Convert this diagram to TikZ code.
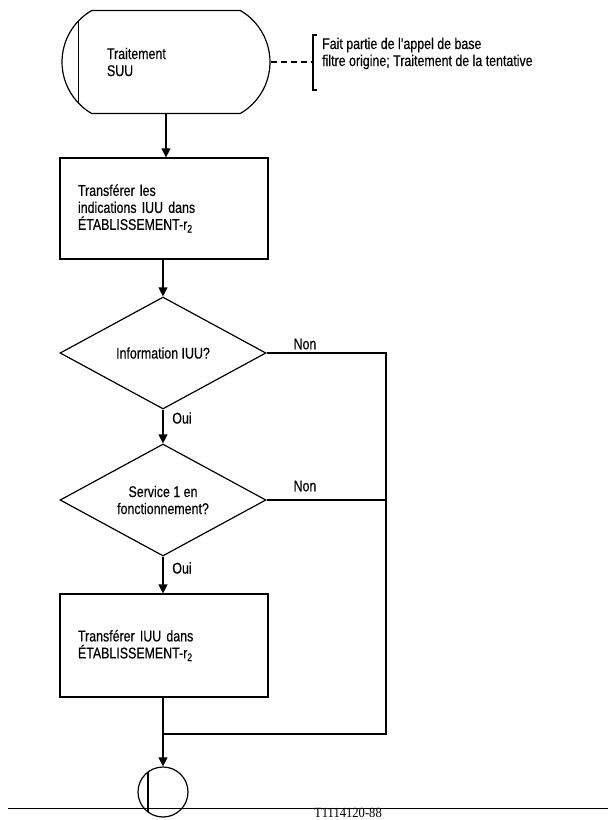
\documentclass[tikz,border=0pt]{standalone}
\usepackage{fontspec}
\setmainfont{Liberation Sans}[FakeStretch=0.8,FakeBold=0.4]
\newfontfamily\refserif{Liberation Serif}[FakeStretch=0.9]
\usetikzlibrary{shapes.geometric,shapes.misc,arrows.meta}
\begin{document}
\begin{tikzpicture}[x=1pt,y=-1pt,
  every node/.style={font=\fontsize{15.5}{17}\selectfont},
  ln/.style={line width=1.2pt},
  arr/.style={ln,-{Triangle[length=9pt,width=9pt]}},
  termbox/.style={draw,ln,rounded rectangle,rounded rectangle arc length=120,
    minimum width=208pt,minimum height=103pt,inner sep=0pt,text width=118pt,align=left},
  procbox/.style={draw,ln,rectangle,minimum width=208pt,inner sep=0pt,text width=172pt,align=left},
  decision/.style={draw,ln,diamond,aspect=1.84,minimum width=206pt,minimum height=112pt,inner sep=0pt,align=center},
  lbl/.style={inner sep=0pt}
]
\useasboundingbox (0,0) rectangle (608,820);

\node[termbox] (term) at (166,62) {Traitement\\SUU};
\draw[ln] ([xshift=17pt]term.west) ++(0,-41.6) -- ++(0,83.2);

\node[procbox,minimum height=101pt] (box1) at (164,208.5)
  {Transférer les\\indications IUU dans\\ÉTABLISSEMENT-r\textsubscript{2}};

\node[decision] (d1) at (163,353) {Information IUU?};
\node[decision] (d2) at (163,500) {Service 1 en\\fonctionnement?};

\node[procbox,minimum height=103pt] (box2) at (164,645.5)
  {Transférer IUU dans\\ÉTABLISSEMENT-r\textsubscript{2}};

\node[draw,ln,circle,minimum size=50pt,inner sep=0pt] (endc) at (163,792) {};
\draw[ln] ([xshift=-15pt]endc.center) ++(0,-20) -- ++(0,40);

% comment
\coordinate (br) at (313,62);
\draw[ln,dash pattern=on 6pt off 4pt] (term.east) -- (br);
\draw[ln] (317,35) -- (313,35) -- (313,90) -- (317,90);
\node[lbl,anchor=west,align=left] (cmt) at (322,53.5)
  {Fait partie de l'appel de base\\filtre origine; Traitement de la tentative};

% main flow
\draw[arr] (term.south) -- (term.south |- box1.north);
\draw[arr] (box1.south -| d1.north) -- (d1.north);
\draw[arr] (d1.south) -- (d2.north);
\draw[arr] (d2.south) -- (d2.south |- box2.north);
\coordinate (rc) at (386,353);
\coordinate (jn) at (163,734);
\draw[ln] (d1.east) -- (rc) -- (rc |- jn) -- (jn);
\draw[ln] (d2.east) -- (d2.east -| rc);
\draw[ln] (box2.south -| jn) -- (jn);
\draw[arr] (jn) -- (endc.north);

\node[lbl] (non1) at (305,344) {Non};
\node[lbl] (non2) at (305,486) {Non};
\node[lbl] (oui1) at (182,418) {Oui};
\node[lbl] (oui2) at (182,568) {Oui};

% bottom rule and reference
\coordinate (rl) at (8,808);
\coordinate (rr) at (608,808);
\draw[line width=1pt] (rl) -- (rr);
\node[lbl,font=\refserif\fontsize{14}{15}\selectfont] (refnum) at (348,813) {T1114120-88};
\end{tikzpicture}
\end{document}
